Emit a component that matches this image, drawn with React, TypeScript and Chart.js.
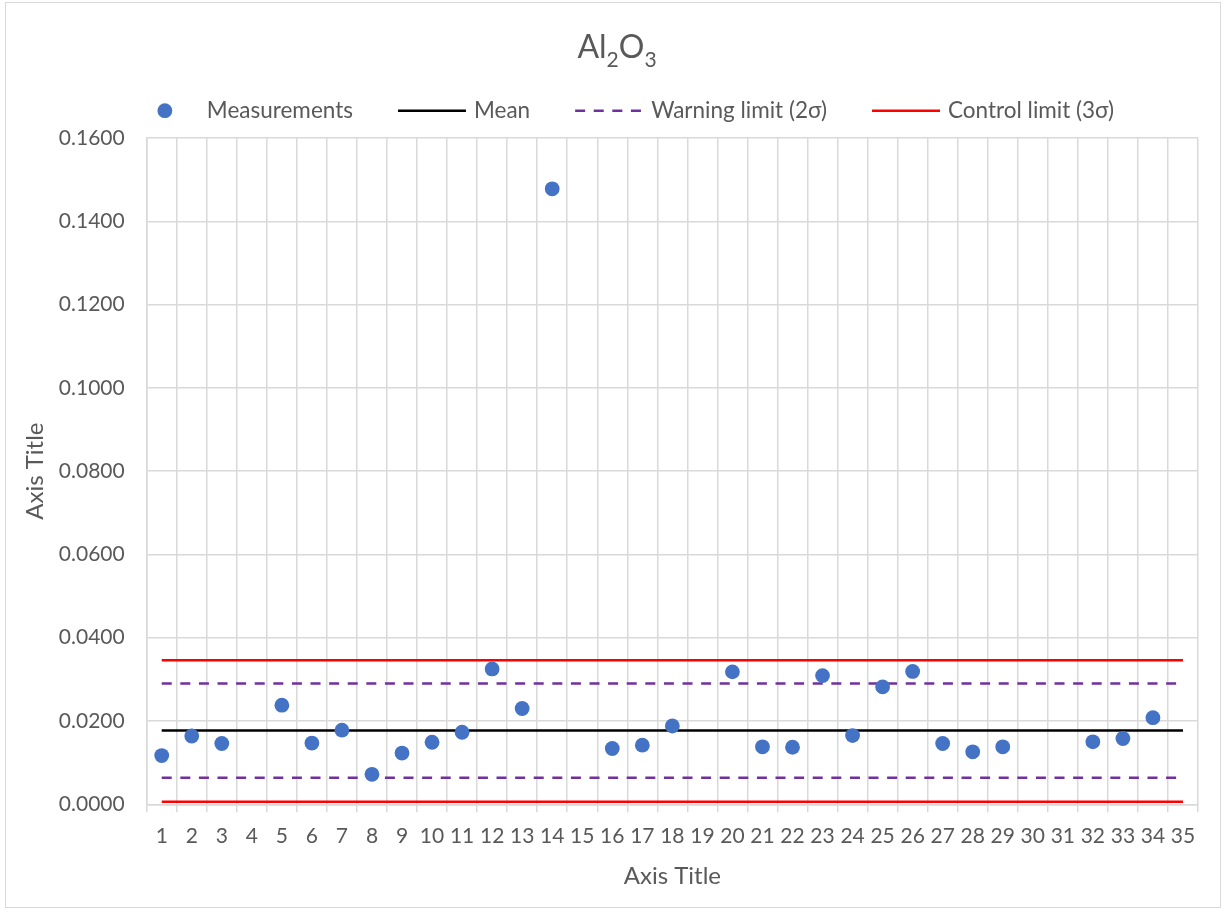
import React, { useEffect, useRef } from 'react';
import { Chart, registerables } from 'chart.js';

Chart.register(...registerables);

// ---------- data ----------
const categories = [
  '1', '2', '3', '4', '5', '6', '7', '8', '9', '10',
  '11', '12', '13', '14', '15', '16', '17', '18', '19', '20',
  '21', '22', '23', '24', '25', '26', '27', '28', '29', '30',
  '31', '32', '33', '34', '35',
];

const measurements: (number | null)[] = [
  0.0117, 0.0164, 0.0146, null, 0.0238, 0.0147, 0.0178, 0.0072, 0.0123, 0.0149,
  0.0173, 0.0325, 0.0230, 0.1478, null, 0.0134, 0.0142, 0.0188, null, 0.0318,
  0.0138, 0.0137, 0.0309, 0.0165, 0.0282, 0.0319, 0.0146, 0.0126, 0.0138, null,
  null, 0.0150, 0.0158, 0.0208, null,
];

const meanValue = 0.0177;
const warningUpper = 0.029;
const warningLower = 0.0064;
const controlUpper = 0.0346;
const controlLower = 0.0006;

const yMin = 0;
const yMax = 0.16;
const yStep = 0.02;

const seriesLabels = ['Measurements', 'Mean', 'Warning limit (2σ)', 'Control limit (3σ)'];
const titleParts = [
  { t: 'Al', sub: false },
  { t: '2', sub: true },
  { t: 'O', sub: false },
  { t: '3', sub: true },
];
const axisTitleX = 'Axis Title';
const axisTitleY = 'Axis Title';

// ---------- styles ----------
const FONT = 'Lato';
const TEXT = '#595959';
const GRID = '#d9d9d9';
const BLUE = '#4472C4';
const PURPLE = '#7030A0';
const RED = '#FF0000';
const DASH = [10, 8.6];

const headerPlugin = {
  id: 'excelHeader',
  afterDraw(chart: any) {
    const ctx = chart.ctx as CanvasRenderingContext2D;
    ctx.save();
    // ----- title with subscripts -----
    const big = `32px ${FONT}`;
    const small = `21px ${FONT}`;
    const widths: number[] = [];
    let total = 0;
    titleParts.forEach((p) => {
      ctx.font = p.sub ? small : big;
      const w = ctx.measureText(p.t).width;
      widths.push(w);
      total += w;
    });
    let x = chart.width / 2 + 4 - total / 2;
    const baseline = 58;
    ctx.fillStyle = TEXT;
    ctx.textAlign = 'left';
    ctx.textBaseline = 'alphabetic';
    titleParts.forEach((p, i) => {
      ctx.font = p.sub ? small : big;
      ctx.fillText(p.t, x, baseline + (p.sub ? 8.5 : 0));
      x += widths[i];
    });

    // ----- legend -----
    const items = chart.data.datasets.filter((d: any) => !d.hideInLegend);
    const symW = 68;
    const gapText = 8;
    const gapItem = 45;
    const legendFont = `22.5px ${FONT}`;
    ctx.font = legendFont;
    const tw = items.map((d: any) => ctx.measureText(d.label).width);
    const totalW =
      tw.reduce((a: number, b: number) => a + b, 0) + items.length * (symW + gapText) + (items.length - 1) * gapItem;
    let lx = chart.width / 2 + 9.5 - totalW / 2;
    const ly = 110.7;
    items.forEach((d: any, i: number) => {
      if (d.showLine === false) {
        ctx.beginPath();
        ctx.fillStyle = d.pointBackgroundColor;
        ctx.arc(lx + symW / 2, ly, d.pointRadius, 0, Math.PI * 2);
        ctx.fill();
      } else {
        ctx.beginPath();
        ctx.strokeStyle = d.borderColor;
        ctx.lineWidth = d.borderWidth;
        ctx.setLineDash(d.borderDash || []);
        ctx.moveTo(lx, ly);
        ctx.lineTo(lx + symW, ly);
        ctx.stroke();
        ctx.setLineDash([]);
      }
      ctx.fillStyle = TEXT;
      ctx.font = legendFont;
      ctx.textBaseline = 'middle';
      ctx.fillText(d.label, lx + symW + gapText, ly);
      lx += symW + gapText + tw[i] + gapItem;
    });
    ctx.restore();
  },
};

function limitLine(label: string, value: number, color: string, dash: number[], hide: boolean) {
  return {
    label,
    data: [
      { x: categories[0], y: value },
      { x: categories[categories.length - 1], y: value },
    ],
    borderColor: color,
    backgroundColor: color,
    borderWidth: 2.5,
    borderDash: dash,
    pointRadius: 0,
    pointHoverRadius: 0,
    fill: false,
    hideInLegend: hide,
  };
}

export default function App() {
  const ref = useRef<HTMLCanvasElement | null>(null);

  useEffect(() => {
    if (!ref.current) return;
    Chart.defaults.font.family = FONT;
    const chart = new Chart(ref.current, {
      type: 'line',
      data: {
        labels: categories,
        datasets: [
          {
            label: seriesLabels[0],
            data: measurements,
            showLine: false,
            pointRadius: 7.4,
            pointHoverRadius: 7.4,
            pointBackgroundColor: BLUE,
            pointBorderColor: BLUE,
            pointBorderWidth: 0,
            borderColor: BLUE,
            backgroundColor: BLUE,
          } as any,
          limitLine(seriesLabels[1], meanValue, '#000000', [], false),
          limitLine(seriesLabels[2], warningUpper, PURPLE, DASH, false),
          limitLine(seriesLabels[3], controlUpper, RED, [], false),
          limitLine(seriesLabels[2], warningLower, PURPLE, DASH, true),
          limitLine(seriesLabels[3], controlLower, RED, [], true),
        ],
      },
      options: {
        animation: false,
        responsive: false,
        maintainAspectRatio: false,
        events: [],
        layout: { padding: { left: 6, right: 28, top: 138, bottom: 0 } },
        plugins: {
          legend: { display: false },
          title: { display: false },
          tooltip: { enabled: false },
        },
        scales: {
          x: {
            type: 'category',
            offset: true,
            grid: { offset: true, color: GRID, lineWidth: 1.5, tickLength: 8, drawTicks: true },
            border: { color: GRID, width: 1.5 },
            ticks: {
              color: TEXT,
              font: { size: 21, family: FONT },
              padding: 11,
              autoSkip: false,
              maxRotation: 0,
              minRotation: 0,
            },
            title: {
              display: true,
              text: axisTitleX,
              color: TEXT,
              font: { size: 24, family: FONT },
              padding: { top: 0, bottom: 18.6 },
            },
            afterFit: (s: any) => {
              s.height = 104.7;
            },
          },
          y: {
            min: yMin,
            max: yMax,
            grid: { color: GRID, lineWidth: 1.5, drawTicks: false },
            border: { color: GRID, width: 1.5 },
            ticks: {
              stepSize: yStep,
              color: TEXT,
              font: { size: 21, family: FONT },
              padding: 22,
              callback: (v: any) => Number(v).toFixed(4),
            },
            title: {
              display: true,
              text: axisTitleY,
              color: TEXT,
              font: { size: 24, family: FONT },
              padding: { top: 14.6, bottom: 0 },
            },
            afterFit: (s: any) => {
              s.width = 140.7;
            },
          },
        },
      } as any,
      plugins: [headerPlugin],
    });
    return () => chart.destroy();
  }, []);

  return (
    <div style={{ position: 'absolute', left: 0, top: 0, width: 1226, height: 909, background: '#ffffff' }}>
      <canvas ref={ref} width={1226} height={909} style={{ display: 'block', width: 1226, height: 909 }} />
      <div
        style={{
          position: 'absolute',
          left: 5,
          top: 2,
          width: 1216,
          height: 906,
          boxSizing: 'border-box',
          border: `1px solid ${GRID}`,
          pointerEvents: 'none',
        }}
      />
    </div>
  );
}
